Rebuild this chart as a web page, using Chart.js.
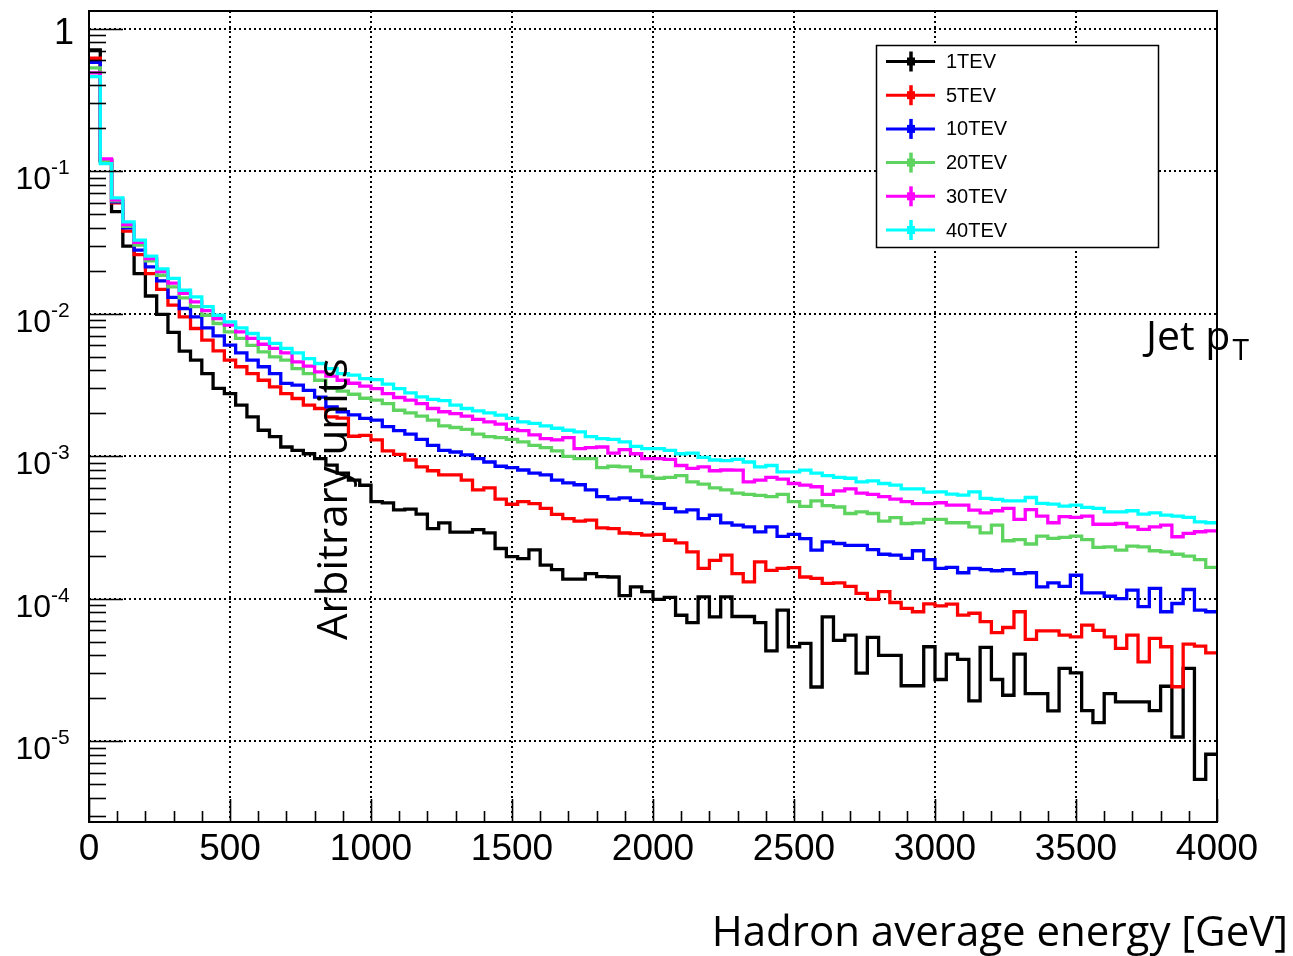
<!DOCTYPE html>
<html>
<head>
<meta charset="utf-8">
<script src="https://cdn.jsdelivr.net/npm/chart.js@4.4.1/dist/chart.umd.min.js"></script>
<style>
  html, body { margin: 0; padding: 0; background: #fff; }
  #wrap { width: 1293px; height: 956px; position: relative; }
</style>
</head>
<body>
<div id="wrap"><canvas id="chart" width="1293" height="956"></canvas></div>
<script>
// ---------- DATA ----------
const binWidth = 40;          // GeV, 100 bins from 0 to 4000
const xTicks = [0, 500, 1000, 1500, 2000, 2500, 3000, 3500, 4000];
const yDecades = [0, -1, -2, -3, -4, -5];
const seriesNames = ["1TEV", "5TEV", "10TEV", "20TEV", "30TEV", "40TEV"];
const seriesColors = ["#000000", "#ff0000", "#0000ff", "#5fd35f", "#ff00ff", "#00ffff"];

const tev1 = [
  0.71, 0.118, 0.052, 0.0298, 0.0191, 0.0133, 0.0099, 0.00738, 0.00546, 0.00472,
  0.0038, 0.00299, 0.00275, 0.00228, 0.00189, 0.00152, 0.00137, 0.00116, 0.0011, 0.00104,
  0.00096, 0.000865, 0.00076, 0.00068, 0.000625,
  4.8e-4, 4.7e-4, 4.2e-4, 4.25e-4, 3.92e-4, 3.1e-4, 3.4e-4, 2.93e-4, 2.93e-4, 3.05e-4,
  2.9e-4, 2.25e-4, 1.97e-4, 1.91e-4, 2.2e-4, 1.72e-4, 1.6e-4, 1.37e-4, 1.37e-4, 1.5e-4,
  1.43e-4, 1.42e-4, 1.05e-4, 1.21e-4, 1.12e-4,
  9.9e-5, 1.02e-4, 7.65e-5, 6.8e-5, 1.03e-4, 7.45e-5, 1.03e-4, 7.5e-5, 7.5e-5, 6.8e-5,
  4.3e-5, 8.3e-5, 4.6e-5, 4.85e-5, 2.4e-5, 7.45e-5, 5.1e-5, 5.55e-5, 3.0e-5, 5.35e-5,
  4.0e-5, 4.0e-5, 2.45e-5, 2.45e-5, 4.6e-5,
  2.71e-5, 4.08e-5, 3.75e-5, 1.92e-5, 4.55e-5, 2.71e-5, 2.1e-5, 4.08e-5, 2.16e-5, 2.16e-5,
  1.63e-5, 3.24e-5, 3.02e-5, 1.64e-5, 1.35e-5, 2.16e-5, 1.89e-5, 1.89e-5, 1.89e-5, 1.64e-5,
  2.43e-5, 1.07e-5, 3.24e-5, 5.4e-6, 8.1e-6
];
const tev5 = [
  0.62, 0.12, 0.060, 0.038, 0.026, 0.0191, 0.0148, 0.01147, 0.0095, 0.00787,
  0.00652, 0.00548, 0.00472, 0.00424, 0.0038, 0.00341, 0.00306, 0.00275, 0.00254, 0.00228,
  0.00216, 0.00189, 0.00185, 0.00138, 0.0014,
  1.30e-3, 1.09e-3, 1.03e-3, 9.4e-4, 8.4e-4, 7.9e-4, 7.4e-4, 7.4e-4, 6.8e-4, 5.8e-4,
  6.0e-4, 5.0e-4, 4.6e-4, 4.8e-4, 4.65e-4, 4.3e-4, 3.9e-4, 3.65e-4, 3.5e-4, 3.56e-4,
  3.14e-4, 3.1e-4, 2.89e-4, 2.86e-4, 2.79e-4,
  2.83e-4, 2.57e-4, 2.46e-4, 2.13e-4, 1.63e-4, 1.86e-4, 2.02e-4, 1.5e-4, 1.31e-4, 1.81e-4,
  1.58e-4, 1.63e-4, 1.65e-4, 1.42e-4, 1.39e-4, 1.28e-4, 1.29e-4, 1.22e-4, 1.09e-4, 9.9e-5,
  1.12e-4, 9.4e-5, 8.55e-5, 8.1e-5, 9.2e-5,
  8.9e-5, 9.15e-5, 7.66e-5, 7.9e-5, 6.9e-5, 5.77e-5, 6.28e-5, 8.1e-5, 5.18e-5, 5.95e-5,
  5.95e-5, 5.55e-5, 5.4e-5, 6.52e-5, 6.0e-5, 5.4e-5, 4.48e-5, 5.55e-5, 3.6e-5, 5.26e-5,
  4.6e-5, 2.41e-5, 4.8e-5, 4.65e-5, 4.17e-5
];
const tev10 = [
  0.58, 0.119, 0.061, 0.040, 0.0279, 0.0213, 0.017, 0.013, 0.01087, 0.0095,
  0.00795, 0.00699, 0.00601, 0.0053, 0.00472, 0.00424, 0.0038, 0.00324, 0.00315, 0.0029,
  0.0026, 0.00222, 0.00205, 0.00195, 0.00184,
  1.79e-3, 1.61e-3, 1.51e-3, 1.43e-3, 1.31e-3, 1.19e-3, 1.10e-3, 1.07e-3, 1.02e-3, 9.6e-4,
  9.1e-4, 8.5e-4, 8.3e-4, 8.0e-4, 7.6e-4, 7.4e-4, 6.8e-4, 6.5e-4, 6.3e-4, 5.8e-4,
  5.2e-4, 5.0e-4, 5.1e-4, 4.9e-4, 4.7e-4,
  4.65e-4, 4.3e-4, 4.06e-4, 4.2e-4, 3.65e-4, 3.85e-4, 3.4e-4, 3.28e-4, 3.19e-4, 2.94e-4,
  3.19e-4, 2.74e-4, 2.83e-4, 2.64e-4, 2.19e-4, 2.5e-4, 2.44e-4, 2.37e-4, 2.37e-4, 2.21e-4,
  2.05e-4, 2.02e-4, 1.92e-4, 2.17e-4, 1.88e-4,
  1.63e-4, 1.66e-4, 1.52e-4, 1.63e-4, 1.6e-4, 1.57e-4, 1.6e-4, 1.5e-4, 1.52e-4, 1.21e-4,
  1.29e-4, 1.22e-4, 1.46e-4, 1.1e-4, 1.1e-4, 1.04e-4, 1.0e-4, 1.15e-4, 8.8e-5, 1.18e-4,
  8.1e-5, 9.25e-5, 1.16e-4, 8.3e-5, 8.1e-5
];
const tev20 = [
  0.53, 0.118, 0.062, 0.041, 0.0303, 0.0235, 0.0186, 0.0154, 0.0129, 0.0112,
  0.00975, 0.00853, 0.00745, 0.0067, 0.006, 0.0054, 0.00498, 0.00472, 0.00412, 0.0038,
  0.00341, 0.00299, 0.00286, 0.00272, 0.00255,
  2.47e-3, 2.34e-3, 2.10e-3, 2.01e-3, 1.91e-3, 1.79e-3, 1.63e-3, 1.59e-3, 1.54e-3, 1.43e-3,
  1.37e-3, 1.35e-3, 1.31e-3, 1.26e-3, 1.19e-3, 1.15e-3, 1.09e-3, 9.98e-4, 9.6e-4, 9.6e-4,
  8.3e-4, 8.5e-4, 8.4e-4, 7.9e-4, 7.2e-4,
  7.0e-4, 7.1e-4, 7.3e-4, 6.6e-4, 6.36e-4, 6.0e-4, 5.8e-4, 5.5e-4, 5.4e-4, 5.3e-4,
  5.2e-4, 5.4e-4, 4.8e-4, 4.45e-4, 4.85e-4, 4.5e-4, 4.4e-4, 3.96e-4, 4.06e-4, 3.96e-4,
  3.5e-4, 3.7e-4, 3.37e-4, 3.4e-4, 3.6e-4,
  3.6e-4, 3.41e-4, 3.41e-4, 3.19e-4, 2.9e-4, 3.28e-4, 2.55e-4, 2.6e-4, 2.42e-4, 2.75e-4,
  2.65e-4, 2.69e-4, 2.75e-4, 2.6e-4, 2.29e-4, 2.31e-4, 2.19e-4, 2.34e-4, 2.31e-4, 2.17e-4,
  2.13e-4, 2.05e-4, 1.99e-4, 1.88e-4, 1.66e-4
];
const tev30 = [
  0.49, 0.122, 0.063, 0.0422, 0.0316, 0.0243, 0.0197, 0.0164, 0.0139, 0.0121,
  0.0105, 0.00925, 0.0083, 0.00745, 0.0067, 0.0061, 0.0057, 0.0053, 0.00459, 0.00428,
  0.0039, 0.00364, 0.00341, 0.00325, 0.0031,
  2.98e-3, 2.75e-3, 2.58e-3, 2.47e-3, 2.34e-3, 2.16e-3, 2.05e-3, 1.99e-3, 1.91e-3, 1.81e-3,
  1.74e-3, 1.68e-3, 1.54e-3, 1.51e-3, 1.41e-3, 1.33e-3, 1.30e-3, 1.35e-3, 1.13e-3, 1.15e-3,
  1.16e-3, 1.05e-3, 1.11e-3, 1.04e-3, 9.6e-4,
  9.6e-4, 9.5e-4, 8.6e-4, 8.2e-4, 8.4e-4, 7.9e-4, 8.0e-4, 7.97e-4, 6.6e-4, 6.8e-4,
  7.1e-4, 6.9e-4, 6.43e-4, 6.26e-4, 6.1e-4, 5.4e-4, 5.7e-4, 5.9e-4, 5.5e-4, 5.4e-4,
  5.2e-4, 5.0e-4, 4.8e-4, 4.65e-4, 4.65e-4,
  4.71e-4, 4.53e-4, 4.53e-4, 4.18e-4, 4.0e-4, 4.14e-4, 4.3e-4, 3.6e-4, 4.22e-4, 3.8e-4,
  3.41e-4, 3.76e-4, 3.72e-4, 3.8e-4, 3.33e-4, 3.33e-4, 3.37e-4, 3.19e-4, 3.06e-4, 3.19e-4,
  3.28e-4, 2.72e-4, 2.87e-4, 2.95e-4, 2.99e-4
];
const tev40 = [
  0.46, 0.113, 0.065, 0.044, 0.0328, 0.0253, 0.0206, 0.0177, 0.0146, 0.0131,
  0.0112, 0.00975, 0.00875, 0.00795, 0.00726, 0.0067, 0.00618, 0.0057, 0.0053, 0.00484,
  0.00447, 0.00412, 0.0038, 0.0037, 0.0035,
  3.45e-3, 3.20e-3, 2.98e-3, 2.78e-3, 2.61e-3, 2.50e-3, 2.45e-3, 2.28e-3, 2.16e-3, 2.08e-3,
  2.01e-3, 1.94e-3, 1.84e-3, 1.74e-3, 1.70e-3, 1.63e-3, 1.57e-3, 1.52e-3, 1.48e-3, 1.37e-3,
  1.33e-3, 1.31e-3, 1.26e-3, 1.17e-3, 1.13e-3,
  1.13e-3, 1.10e-3, 1.04e-3, 1.05e-3, 9.8e-4, 9.4e-4, 9.3e-4, 9.5e-4, 9.1e-4, 8.4e-4,
  8.6e-4, 7.75e-4, 7.75e-4, 7.97e-4, 7.6e-4, 7.3e-4, 7.1e-4, 7.0e-4, 6.6e-4, 6.7e-4,
  6.43e-4, 6.26e-4, 5.9e-4, 5.9e-4, 5.6e-4,
  5.62e-4, 5.42e-4, 5.33e-4, 5.62e-4, 5.05e-4, 4.97e-4, 4.86e-4, 4.86e-4, 5.13e-4, 4.66e-4,
  4.61e-4, 4.46e-4, 4.53e-4, 4.37e-4, 4.3e-4, 4.07e-4, 4.07e-4, 4.14e-4, 3.92e-4, 4.0e-4,
  3.86e-4, 3.8e-4, 3.72e-4, 3.46e-4, 3.41e-4
];
const allSeries = [tev1, tev5, tev10, tev20, tev30, tev40];

// ---------- HELPERS ----------
// histogram as step line: one point per lower bin edge + closing point at the upper edge
const histPoints = vals =>
  vals.map((v, i) => ({ x: i * binWidth, y: v }))
      .concat([{ x: vals.length * binWidth, y: vals[vals.length - 1] }]);

const axisFont = "Liberation Sans, Arial, Helvetica, sans-serif";
const textFont = "'Open Sans', sans-serif";

// ---------- PLUGINS ----------
const rootFrame = {
  id: "rootFrame",
  beforeDatasetsDraw(chart) {
    const { ctx, chartArea: a, scales: { x, y } } = chart;
    ctx.save();
    ctx.strokeStyle = "#000";
    ctx.lineWidth = 2;
    ctx.setLineDash([2, 3]);
    xTicks.forEach(t => {
      const px = Math.round(x.getPixelForValue(t));
      ctx.beginPath(); ctx.moveTo(px, a.top); ctx.lineTo(px, a.bottom); ctx.stroke();
    });
    yDecades.forEach(d => {
      const py = Math.round(y.getPixelForValue(Math.pow(10, d)));
      ctx.beginPath(); ctx.moveTo(a.left, py); ctx.lineTo(a.right, py); ctx.stroke();
    });
    ctx.restore();
  },
  afterDatasetsDraw(chart) {
    const { ctx, chartArea: a, scales: { x, y } } = chart;
    ctx.save();
    ctx.strokeStyle = "#000";
    ctx.lineWidth = 2;
    ctx.setLineDash([]);
    ctx.strokeRect(a.left, a.top, a.right - a.left, a.bottom - a.top);

    // y ticks (inside, on the left)
    ctx.lineWidth = 1.6;
    for (let d = -6; d <= 0; d++) {
      for (let m = 1; m <= 9; m++) {
        const v = m * Math.pow(10, d);
        if (v < y.min || v > y.max) continue;
        const py = Math.round(y.getPixelForValue(v)) + 0.5;
        const len = m === 1 ? 34 : 17;
        ctx.beginPath(); ctx.moveTo(a.left, py); ctx.lineTo(a.left + len, py); ctx.stroke();
      }
    }
    // x ticks (inside, at the bottom)
    for (let t = 0; t <= 4000; t += 100) {
      const px = Math.round(x.getPixelForValue(t)) + 0.5;
      const len = t % 500 === 0 ? 23 : 11;
      ctx.beginPath(); ctx.moveTo(px, a.bottom); ctx.lineTo(px, a.bottom - len); ctx.stroke();
    }

    // y tick labels: 1, 10^-1 ... 10^-5
    ctx.fillStyle = "#000";
    ctx.textBaseline = "alphabetic";
    yDecades.forEach(d => {
      const py = y.getPixelForValue(Math.pow(10, d));
      if (d === 0) {
        ctx.font = "36px " + axisFont;
        ctx.textAlign = "right";
        ctx.fillText("1", 74, py + 15);
        return;
      }
      ctx.font = "32px " + axisFont;
      ctx.textAlign = "right";
      ctx.fillText("10", 51, py + 18);
      ctx.font = "21px " + axisFont;
      ctx.textAlign = "left";
      ctx.fillText("-" + (-d), 51, py + 3);
    });
    ctx.restore();
  },
  afterDraw(chart) {
    const { ctx } = chart;
    ctx.save();
    // legend box
    const lx = 876, ly = 45, lw = 282, lh = 202;
    ctx.fillStyle = "#fff";
    ctx.fillRect(lx, ly, lw, lh);
    ctx.strokeStyle = "#000";
    ctx.lineWidth = 1.5;
    ctx.strokeRect(lx + 0.5, ly + 0.5, lw, lh);
    seriesNames.forEach((name, i) => {
      const cy = 61.5 + i * 33.7;
      ctx.strokeStyle = seriesColors[i];
      ctx.fillStyle = seriesColors[i];
      ctx.lineWidth = 3;
      ctx.beginPath(); ctx.moveTo(886, cy); ctx.lineTo(935, cy); ctx.stroke();
      ctx.lineWidth = 3.5;
      ctx.beginPath(); ctx.moveTo(911, cy - 10); ctx.lineTo(911, cy + 10); ctx.stroke();
      ctx.fillRect(907, cy - 4, 8, 8);
      ctx.fillStyle = "#000";
      ctx.font = "20px " + axisFont;
      ctx.textAlign = "left";
      ctx.textBaseline = "middle";
      ctx.fillText(name, 946, cy + 1);
    });

    // annotation texts
    ctx.fillStyle = "#000";
    ctx.textBaseline = "alphabetic";
    ctx.font = "41px " + textFont;
    ctx.textAlign = "left";
    ctx.fillText("Jet p", 1146, 350);
    const w = ctx.measureText("Jet p").width;
    ctx.font = "30px " + textFont;
    ctx.fillText("T", 1148 + w, 360);

    ctx.font = "42px " + textFont;
    ctx.textAlign = "right";
    ctx.fillText("Hadron average energy [GeV]", 1288, 946);

    ctx.translate(347, 640);
    ctx.rotate(-Math.PI / 2);
    ctx.textAlign = "left";
    ctx.font = "42px " + textFont;
    ctx.fillText("Arbitrary units", 0, 0);
    ctx.restore();
  }
};

// ---------- CHART ----------
new Chart(document.getElementById("chart"), {
  type: "line",
  data: {
    datasets: allSeries.map((vals, i) => ({
      label: seriesNames[i],
      data: histPoints(vals),
      borderColor: seriesColors[i],
      borderWidth: 3.3,
      stepped: true,
      pointRadius: 0,
      fill: false,
      order: allSeries.length - i
    }))
  },
  options: {
    responsive: false,
    animation: false,
    devicePixelRatio: 1,
    layout: { padding: { top: 11, right: 76, left: 0, bottom: 0 } },
    plugins: { legend: { display: false }, tooltip: { enabled: false } },
    scales: {
      x: {
        type: "linear",
        min: 0,
        max: 4000,
        grid: { display: false, drawTicks: false },
        border: { display: false },
        ticks: {
          stepSize: 500,
          autoSkip: false,
          maxRotation: 0,
          padding: 6,
          color: "#000",
          font: { family: axisFont, size: 37 },
          callback: v => String(v)
        },
        afterFit(s) { s.height = 134; }
      },
      y: {
        type: "logarithmic",
        min: 2.71e-6,
        max: 1.33,
        grid: { display: false, drawTicks: false },
        border: { display: false },
        ticks: { display: false },
        afterFit(s) { s.width = 89; }
      }
    }
  },
  plugins: [rootFrame]
});
</script>
</body>
</html>
